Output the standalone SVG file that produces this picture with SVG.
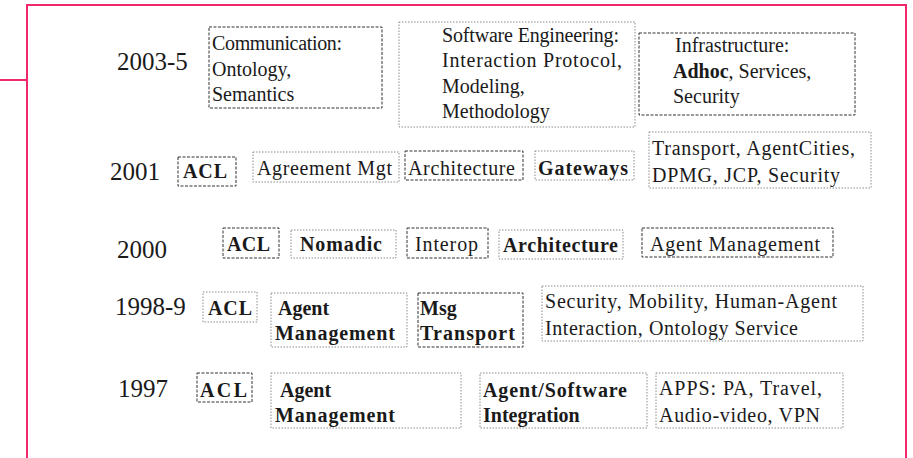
<svg xmlns="http://www.w3.org/2000/svg" width="913" height="458" viewBox="0 0 913 458">
<style>
text{font-family:"Liberation Serif","DejaVu Serif","Noto Serif","Times New Roman",serif;fill:#1a1a1a}
.yr{font-size:25px}
.t{font-size:20px}
.b{font-weight:bold}
.dk{fill:#fff;stroke:#333;stroke-width:1;stroke-dasharray:3 1.5}
.lt{fill:#fff;stroke:#8a8a8a;stroke-width:1;stroke-dasharray:1.5 1.5}
.frame{fill:none;stroke:#f0286e;stroke-width:2}
</style>
<rect width="913" height="458" fill="#fff"/>
<g id="frame"><path class="frame" d="M0 80H27M27 458V5H906V458"/></g>
<g id="connectors"/>
<g id="years" font-family="Liberation Serif, serif">
<text class="yr" x="117" y="70" font-family="Liberation Serif, serif">2003-5</text>
<text class="yr" x="110" y="180" font-family="Liberation Serif, serif">2001</text>
<text class="yr" x="117" y="258" font-family="Liberation Serif, serif">2000</text>
<text class="yr" x="115" y="315" font-family="Liberation Serif, serif">1998-9</text>
<text class="yr" x="118" y="397" font-family="Liberation Serif, serif">1997</text>
</g>
<g id="comm"><rect class="dk" x="209" y="27" width="173" height="81"/>
<text class="t" x="212" y="50" textLength="130" lengthAdjust="spacing">Communication:</text>
<text class="t" x="212" y="76">Ontology,</text>
<text class="t" x="212" y="101">Semantics</text></g>
<g id="sweng"><rect class="lt" x="399" y="22" width="236" height="105"/>
<text class="t" x="442" y="42" textLength="177" lengthAdjust="spacing">Software Engineering:</text>
<text class="t" x="442" y="67" textLength="180" lengthAdjust="spacing">Interaction Protocol,</text>
<text class="t" x="442" y="93">Modeling,</text>
<text class="t" x="442" y="118">Methodology</text></g>
<g id="infra"><rect class="dk" x="639" y="33" width="216" height="82"/>
<text class="t" x="675" y="52">Infrastructure:</text>
<text class="t" x="673" y="78"><tspan class="b">Adhoc</tspan>, Services,</text>
<text class="t" x="673" y="103">Security</text></g>
<g id="acl2001"><rect class="dk" x="178" y="157" width="58" height="29"/>
<text class="t b" x="183" y="178" textLength="44" lengthAdjust="spacing">ACL</text></g>
<g id="agreement"><rect class="lt" x="253" y="152" width="146" height="30"/>
<text class="t" x="257" y="175" textLength="135" lengthAdjust="spacing">Agreement Mgt</text></g>
<g id="arch2001"><rect class="dk" x="405" y="151" width="118" height="29"/>
<text class="t" x="408" y="175" textLength="107" lengthAdjust="spacing">Architecture</text></g>
<g id="gateways"><rect class="lt" x="535" y="151" width="99" height="29"/>
<text class="t b" x="538" y="175" textLength="90" lengthAdjust="spacing">Gateways</text></g>
<g id="transport"><rect class="lt" x="649" y="132" width="222" height="56"/>
<text class="t" x="652" y="155" textLength="203" lengthAdjust="spacing">Transport, AgentCities,</text>
<text class="t" x="652" y="182" textLength="188" lengthAdjust="spacing">DPMG, JCP, Security</text></g>
<g id="acl2000"><rect class="dk" x="223" y="228" width="56" height="30"/>
<text class="t b" x="227" y="251" textLength="43" lengthAdjust="spacing">ACL</text></g>
<g id="nomadic"><rect class="lt" x="291" y="230" width="105" height="28"/>
<text class="t b" x="300" y="251" textLength="82" lengthAdjust="spacing">Nomadic</text></g>
<g id="interop"><rect class="dk" x="407" y="228" width="81" height="30"/>
<text class="t" x="415" y="251" textLength="63" lengthAdjust="spacing">Interop</text></g>
<g id="arch2000"><rect class="lt" x="499" y="230" width="124" height="29"/>
<text class="t b" x="503" y="252" textLength="115" lengthAdjust="spacing">Architecture</text></g>
<g id="agentmgt2000"><rect class="dk" x="642" y="228" width="191" height="29"/>
<text class="t" x="650" y="251" textLength="170" lengthAdjust="spacing">Agent Management</text></g>
<g id="acl1998"><rect class="lt" x="203" y="292" width="54" height="30"/>
<text class="t b" x="208" y="315" textLength="44" lengthAdjust="spacing">ACL</text></g>
<g id="agentmgt1998"><rect class="lt" x="271" y="293" width="136" height="54"/>
<text class="t b" x="278" y="315">Agent</text>
<text class="t b" x="275" y="340" textLength="120" lengthAdjust="spacing">Management</text></g>
<g id="msgtransport"><rect class="dk" x="418" y="293" width="105" height="54"/>
<text class="t b" x="420" y="315">Msg</text>
<text class="t b" x="420" y="340" textLength="95" lengthAdjust="spacing">Transport</text></g>
<g id="security"><rect class="lt" x="542" y="286" width="321" height="55"/>
<text class="t" x="545" y="308" textLength="292" lengthAdjust="spacing">Security, Mobility, Human-Agent</text>
<text class="t" x="545" y="335" textLength="253" lengthAdjust="spacing">Interaction, Ontology Service</text></g>
<g id="acl1997"><rect class="dk" x="197" y="373" width="55" height="29"/>
<text class="t b" x="200" y="397" textLength="47" lengthAdjust="spacing">ACL</text></g>
<g id="agentmgt1997"><rect class="lt" x="271" y="373" width="190" height="55"/>
<text class="t b" x="280" y="397">Agent</text>
<text class="t b" x="275" y="422" textLength="120" lengthAdjust="spacing">Management</text></g>
<g id="agentsoftware"><rect class="lt" x="480" y="373" width="167" height="55"/>
<text class="t b" x="483" y="397" textLength="144" lengthAdjust="spacing">Agent/Software</text>
<text class="t b" x="483" y="422">Integration</text></g>
<g id="apps"><rect class="lt" x="656" y="373" width="187" height="55"/>
<text class="t" x="659" y="395" textLength="163" lengthAdjust="spacing">APPS: PA, Travel,</text>
<text class="t" x="659" y="422" textLength="161" lengthAdjust="spacing">Audio-video, VPN</text></g>
</svg>
